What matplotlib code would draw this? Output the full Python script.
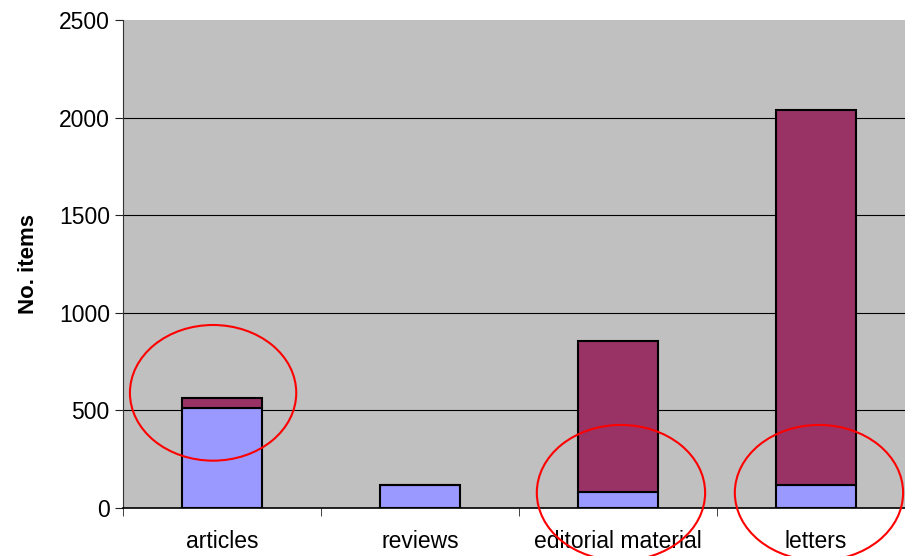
import matplotlib
matplotlib.use("Agg")
import matplotlib.pyplot as plt
from matplotlib.patches import Ellipse

categories = ["articles", "reviews", "editorial material", "letters"]
lower = [514, 120, 84, 119]
upper = [51, 0, 771, 1921]

# annotation ellipses: (category position, y value, width in categories, height in items)
circles = [(-0.045, 590, 0.84, 695), (2.015, 78, 0.85, 695), (3.015, 78, 0.85, 695)]

GRAY = "#C0C0C0"
BLUE = "#9999FF"
MAROON = "#993366"

plt.rcParams["font.family"] = ["Liberation Sans", "DejaVu Sans"]

fig = plt.figure(figsize=(9.05, 5.56), dpi=100)
ax = fig.add_axes([123 / 905, 48 / 556, 4 * 198 / 905, 488 / 556])
ax.set_facecolor(GRAY)

x = list(range(len(categories)))
ax.bar(x, lower, width=0.4, color=BLUE, edgecolor="black", linewidth=1.5, zorder=3)
ax.bar(x, upper, width=0.4, bottom=lower, color=MAROON, edgecolor="black",
       linewidth=1.5, zorder=3)

for cx, cy, w, h in circles:
    ax.add_patch(Ellipse((cx, cy), w, h, fill=False, edgecolor="#FF0000",
                         linewidth=1.5, clip_on=False, zorder=5))

ax.set_xlim(-0.5, len(categories) - 0.5)
ax.set_ylim(0, 2500)
ax.set_yticks(range(0, 2501, 500))
ax.set_xticks(x)
ax.set_xticklabels(categories, fontsize=16.5)
ax.set_xticks([i - 0.5 for i in range(len(categories) + 1)], minor=True)
ax.tick_params(axis="x", which="major", length=0, pad=16)
ax.tick_params(axis="x", which="minor", length=6, direction="out", color="#222222")
ax.tick_params(axis="y", length=6, direction="out", labelsize=16.5, color="#222222")
ax.grid(axis="y", color="black", linewidth=0.8, zorder=1)
ax.set_axisbelow(True)
ax.yaxis.get_gridlines()[-1].set_visible(False)

for s in ("top", "right"):
    ax.spines[s].set_visible(False)
ax.spines["left"].set_color("#333333")
ax.spines["bottom"].set_color("black")
ax.spines["bottom"].set_linewidth(1.2)

ax.set_ylabel("No. items", fontsize=16, fontweight="bold", labelpad=14)

fig.savefig("out.png", dpi=100)
